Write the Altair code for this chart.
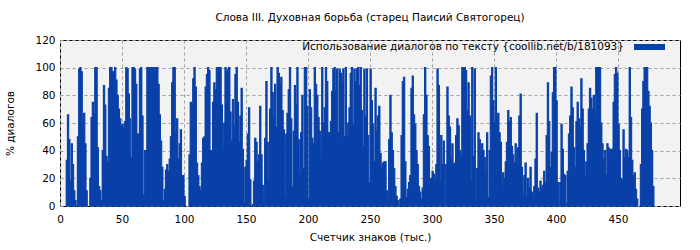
import altair as alt
import pandas as pd

# % of dialogue per thousand characters of text
seg_000 = [0, 0, 0, 0, 0, 33, 66, 48, 18, 45, 30, 11, 4, 0, 50, 99, 100, 97, 60, 67,
           45, 11, 0, 0, 20, 64, 75, 67, 100, 100, 42, 14, 11, 4, 40, 87, 73, 36, 32, 85,
           100, 100, 97, 97, 100, 91, 80, 70, 63, 58]
seg_050 = [59, 56, 61, 100, 99, 81, 63, 35, 100, 100, 99, 88, 52, 52, 99, 100, 65, 8, 40, 40,
           100, 100, 100, 100, 100, 100, 99, 100, 100, 88, 66, 47, 28, 4, 12, 26, 30, 25, 34, 50,
           89, 100, 100, 52, 63, 34, 45, 55, 22, 22]
seg_100 = [7, 0, 0, 0, 37, 75, 73, 92, 100, 86, 31, 22, 14, 11, 31, 49, 50, 86, 95, 100,
           98, 40, 40, 75, 89, 84, 100, 100, 100, 100, 73, 43, 60, 100, 97, 99, 100, 68, 47, 77,
           58, 95, 100, 75, 46, 65, 85, 41, 2, 28]
seg_150 = [33, 52, 71, 19, 0, 1, 18, 49, 46, 32, 37, 72, 37, 15, 2, 49, 90, 46, 18, 70,
           100, 82, 65, 88, 57, 100, 96, 88, 93, 69, 55, 7, 52, 67, 84, 100, 63, 14, 54, 87,
           73, 100, 48, 23, 53, 80, 27, 100, 100, 72]
seg_200 = [5, 84, 71, 49, 45, 100, 88, 80, 64, 54, 34, 100, 60, 71, 100, 90, 53, 53, 61, 83,
           99, 100, 84, 99, 53, 99, 96, 89, 99, 50, 100, 51, 60, 71, 96, 100, 59, 99, 90, 99,
           100, 87, 100, 69, 43, 99, 65, 99, 51, 17]
seg_250 = [99, 76, 59, 32, 85, 54, 65, 72, 38, 28, 31, 32, 32, 11, 5, 48, 80, 53, 40, 27,
           14, 7, 4, 0, 5, 51, 90, 93, 32, 6, 12, 17, 22, 85, 94, 66, 59, 40, 30, 14,
           10, 5, 13, 66, 100, 80, 51, 43, 19, 20]
seg_300 = [25, 23, 18, 30, 99, 87, 18, 51, 30, 47, 0, 30, 86, 65, 57, 35, 45, 30, 31, 51,
           63, 58, 40, 36, 100, 100, 100, 98, 69, 89, 65, 18, 100, 36, 99, 4, 27, 53, 48, 39,
           45, 40, 35, 23, 53, 6, 40, 94, 100, 76]
seg_350 = [60, 100, 65, 67, 53, 46, 14, 24, 20, 32, 46, 69, 61, 64, 43, 37, 31, 45, 32, 42,
           65, 81, 28, 8, 22, 31, 7, 20, 13, 28, 10, 7, 14, 34, 67, 13, 10, 18, 13, 15,
           25, 17, 51, 89, 61, 28, 39, 82, 100, 100]
seg_400 = [76, 17, 1, 17, 59, 41, 23, 22, 2, 25, 52, 65, 86, 71, 42, 28, 61, 75, 63, 57,
           92, 70, 40, 22, 32, 45, 70, 85, 78, 70, 80, 66, 100, 100, 100, 100, 60, 45, 34, 40,
           23, 45, 42, 38, 41, 41, 75, 95, 100, 96]
seg_450 = [59, 40, 20, 19, 55, 35, 41, 40, 35, 100, 64, 33, 22, 24, 12, 5, 0, 0, 30, 70,
           90, 100, 100, 100, 83, 72, 60, 40, 14]

x_ticks = [0, 50, 100, 150, 200, 250, 300, 350, 400, 450]
y_ticks = [0, 20, 40, 60, 80, 100, 120]

title_text = "Слова III. Духовная борьба (старец Паисий Святогорец)"
legend_text = "Использование диалогов по тексту {coollib.net/b/181093}"
x_title = "Счетчик знаков (тыс.)"
y_title = "% диалогов"

values = seg_000 + seg_050 + seg_100 + seg_150 + seg_200 + seg_250 + seg_300 + seg_350 + seg_400 + seg_450
df = pd.DataFrame({"k": list(range(len(values))), "pct": values})

FONT = "DejaVu Sans"
FS = 10.5
BLUE = "#0a41a8"

bars = alt.Chart(df).transform_filter(
    "datum.pct > 0"
).transform_calculate(
    k2="datum.k + 1"
).mark_rect(color=BLUE, stroke=BLUE, strokeWidth=1.1).encode(
    x=alt.X("k:Q", scale=alt.Scale(domain=[0, 500], nice=False, zero=False),
            axis=alt.Axis(values=x_ticks, title=x_title, grid=True, gridDash=[3, 3],
                          gridColor="#a0a0a0", domain=False, ticks=False,
                          labelPadding=8, titlePadding=8, labelFlush=False)),
    x2="k2:Q",
    y=alt.Y("pct:Q", scale=alt.Scale(domain=[0, 120], nice=False),
            axis=alt.Axis(values=y_ticks, title=y_title, grid=True, gridDash=[3, 3],
                          gridColor="#a0a0a0", domain=False, ticks=False,
                          labelPadding=5, titlePadding=19)),
    y2=alt.datum(0),
)

one = pd.DataFrame({"a": [0]})
legend_label = alt.Chart(one).mark_text(
    text=legend_text, align="right", baseline="middle", font=FONT, fontSize=FS, color="#000000"
).encode(x=alt.value(564), y=alt.value(7))
legend_swatch = alt.Chart(one).mark_rect(color=BLUE).encode(
    x=alt.value(574), x2=alt.value(605), y=alt.value(4), y2=alt.value(10)
)

chart = alt.layer(bars, legend_label, legend_swatch).properties(
    width=620, height=166,
    title=alt.TitleParams(title_text, font=FONT, fontSize=FS, fontWeight="normal",
                          anchor="middle", offset=12, color="#000000"),
    autosize=alt.AutoSizeParams(type="none"),
    padding={"left": 60, "top": 40, "right": 20, "bottom": 44},
    background="#ffffff",
).configure_view(
    fill="#f2f2f2", stroke="#000000", strokeWidth=1
).configure_axis(
    labelFont=FONT, labelFontSize=FS, labelColor="#000000",
    titleFont=FONT, titleFontSize=FS, titleFontWeight="normal", titleColor="#000000",
)

chart.save("out.html", embed_options={"renderer": "svg", "actions": False})
